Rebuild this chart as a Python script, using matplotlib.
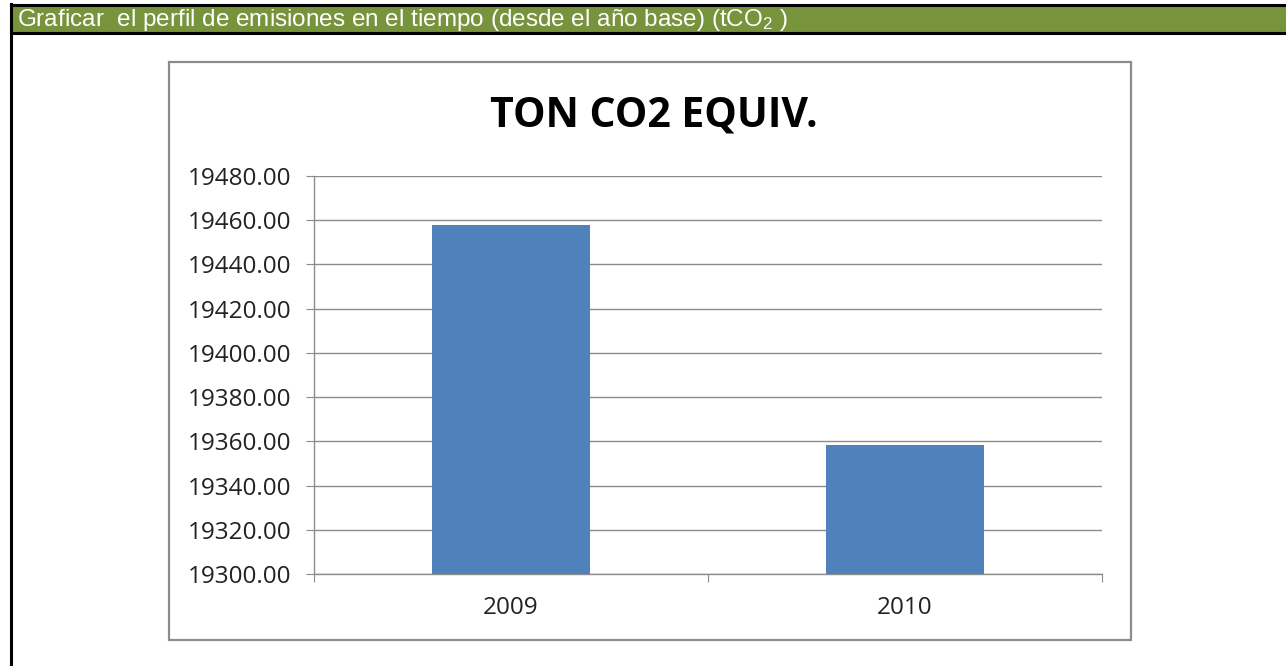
import matplotlib
matplotlib.use("Agg")
import matplotlib.pyplot as plt
from matplotlib.patches import Rectangle
from matplotlib.ticker import FormatStrFormatter, FixedLocator

categories = ["2009", "2010"]
values = [19457.8, 19358.2]
y_min, y_max, y_step = 19300, 19480, 20
title = "TON CO2 EQUIV."
header = "Graficar  el perfil de emisiones en el tiempo (desde el año base) (tCO$_\\mathrm{2}$ )"

W, H = 1286, 666
plt.rcParams['mathtext.fontset'] = 'custom'
plt.rcParams['mathtext.rm'] = 'Liberation Sans'
plt.rcParams['mathtext.it'] = 'Liberation Sans'
plt.rcParams['mathtext.bf'] = 'Liberation Sans'

fig = plt.figure(figsize=(W / 100, H / 100), dpi=100)
fig.patch.set_facecolor("white")

def fx(x):
    return x / W

def fy(y):
    return 1 - y / H

# header bar
fig.patches.append(Rectangle((fx(11), fy(34)), fx(W - 11), 29 / H, transform=fig.transFigure,
                             facecolor="#77933C", edgecolor="none", zorder=0))
fig.add_artist(plt.Line2D([fx(11), 1], [fy(5), fy(5)], color="black", lw=2.2, transform=fig.transFigure))
fig.add_artist(plt.Line2D([fx(11), 1], [fy(33), fy(33)], color="black", lw=2.2, transform=fig.transFigure))
fig.add_artist(plt.Line2D([fx(11), fx(11)], [fy(4), 0], color="black", lw=2.2, transform=fig.transFigure))
fig.text(fx(17), fy(20), header, color="white", fontsize=17.5, family="Liberation Sans",
         va="center", ha="left")

# chart box
fig.patches.append(Rectangle((fx(169), fy(640)), fx(1131 - 169), (640 - 62) / H, transform=fig.transFigure,
                             facecolor="white", edgecolor="#8C8C8C", lw=1.6, zorder=1))

fig.text(fx(654), fy(116), title, fontsize=29.5, fontweight="bold", family="Open Sans",
         ha="center", va="center", color="black")

ax = fig.add_axes([fx(314), fy(574), fx(1102 - 314), (574 - 176) / H])
ax.set_zorder(2)
ax.patch.set_alpha(0)

x = list(range(len(categories)))
ax.bar(x, values, width=0.4, color="#4F81BD", zorder=3)
ax.set_xlim(-0.5, len(categories) - 0.5)
ax.set_ylim(y_min, y_max)
yt = list(range(y_min, y_max + 1, y_step))
ax.set_yticks(yt)
ax.yaxis.set_major_formatter(FormatStrFormatter('%.2f'))
ax.grid(axis="y", color="#8C8C8C", lw=1.0, zorder=0)

ax.xaxis.set_major_locator(FixedLocator([i - 0.5 for i in range(len(categories) + 1)]))
ax.xaxis.set_major_formatter(plt.NullFormatter())
ax.xaxis.set_minor_locator(FixedLocator(x))
ax.set_xticklabels(categories, minor=True)
ax.tick_params(axis="x", which="minor", length=0, pad=16, labelsize=17.5)
ax.tick_params(axis="x", which="major", length=6, color="#8C8C8C", direction="out")
ax.tick_params(axis="y", length=6, color="#8C8C8C", pad=10, labelsize=17.5)
for lab in ax.get_yticklabels() + ax.get_xticklabels(minor=True):
    lab.set_family("Open Sans")
    lab.set_color("#222222")

for s in ["top", "right"]:
    ax.spines[s].set_visible(False)
for s in ["left", "bottom"]:
    ax.spines[s].set_color("#8C8C8C")
    ax.spines[s].set_linewidth(1.0)

fig.savefig("out.png", dpi=100)
